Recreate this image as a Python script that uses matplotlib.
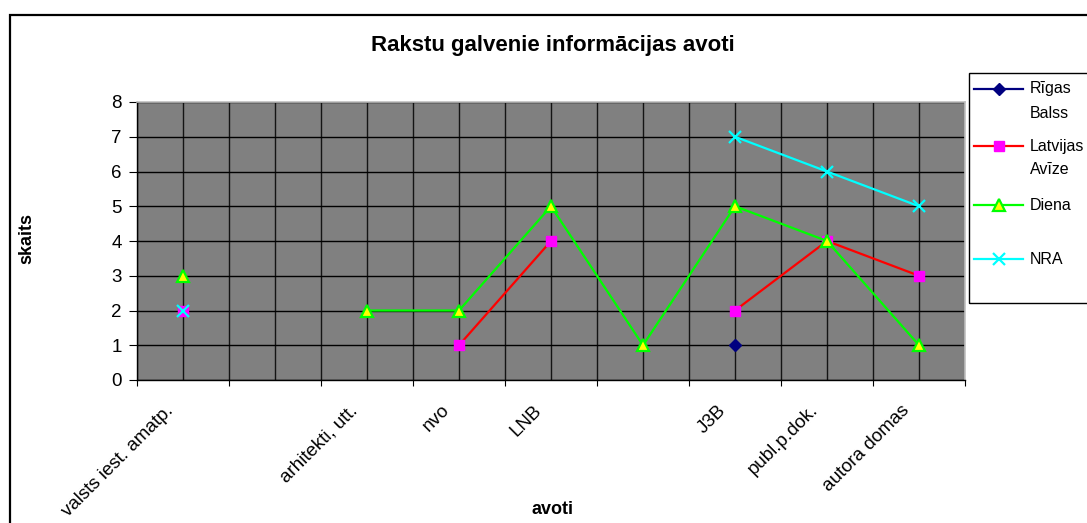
import numpy as np
import matplotlib.pyplot as plt
from matplotlib.lines import Line2D
from matplotlib.patches import Rectangle
from matplotlib.transforms import ScaledTranslation

plt.rcParams['font.family'] = ['Liberation Sans', 'DejaVu Sans']

nan = np.nan
avoti = ['valsts iest. amatp.', '', 'arhitekti, utt.', 'nvo', 'LNB', '',
         'J3B', 'publ.p.dok.', 'autora domas']
rigas_balss = [nan, nan, nan, nan, nan, nan, 1, nan, nan]
latvijas_avize = [2, nan, nan, 1, 4, nan, 2, 4, 3]
diena = [3, nan, 2, 2, 5, 1, 5, 4, 1]
nra = [2, nan, nan, nan, nan, nan, 7, 6, 5]

W, H = 1087, 523


def px(x, y):  # pixel position -> figure fraction
    return x / W, 1 - y / H


series = [
    ('Rīgas\nBalss', rigas_balss,
     dict(color='#000080', marker='D', ms=6.5, mfc='#000080', mec='#000080')),
    ('Latvijas\nAvīze', latvijas_avize,
     dict(color='#ff0000', marker='s', ms=7.5, mfc='#ff00ff', mec='#ff00ff')),
    ('Diena', diena,
     dict(color='#00ff00', marker='^', ms=8.5, mfc='#ffff00', mec='#00ff00', mew=1.6)),
    ('NRA', nra,
     dict(color='#00ffff', marker='x', ms=8.5, mec='#00ffff', mew=1.6)),
]

fig = plt.figure(figsize=(W / 100, H / 100), dpi=100)
x0, y0 = px(137, 380)
x1, y1 = px(965, 102)
ax = fig.add_axes([x0, y0, x1 - x0, y1 - y0])
ax.set_facecolor('#808080')

x = np.arange(len(avoti))
for name, vals, st in series:
    ax.plot(x, vals, lw=1.6, zorder=3, clip_on=False, **st)

ax.set_xlim(-0.5, len(avoti) - 0.5)
ax.set_ylim(0, 8)
ax.set_yticks(range(0, 9))
ax.set_xticks(np.arange(-0.5, len(avoti), 1))
ax.set_xticklabels([])
ax.set_xticks(x, minor=True)
ax.set_xticklabels(avoti, minor=True, rotation=45, ha='right', va='center',
                   rotation_mode='anchor', fontsize=13.5)
ax.tick_params(axis='x', which='major', length=4, color='black', direction='out')
ax.tick_params(axis='x', which='minor', length=0, pad=20)
ax.tick_params(axis='y', length=6, color='black', labelsize=13.5, pad=5)
off = ScaledTranslation(-0.12, 0, fig.dpi_scale_trans)
for lab in ax.get_xticklabels(minor=True):
    lab.set_transform(lab.get_transform() + off)

ax.grid(True, axis='x', which='both', color='#141414', lw=1.0, zorder=1)
ax.grid(True, axis='y', which='major', color='black', lw=1.0, zorder=1)
ax.set_axisbelow(True)
for s in ['left', 'bottom']:
    ax.spines[s].set_color('black')
    ax.spines[s].set_linewidth(1.0)
for s in ['top', 'right']:
    ax.spines[s].set_color('#c0c0c0')
    ax.spines[s].set_linewidth(1.2)

fig.text(*px(553, 46), 'Rakstu galvenie informācijas avoti', ha='center',
         va='center', fontsize=16, fontweight='bold')
fig.text(*px(27, 239), 'skaits', ha='center', va='center', rotation=90,
         fontsize=13, fontweight='bold')
fig.text(*px(552, 510), 'avoti', ha='center', va='center', fontsize=13,
         fontweight='bold')

# outer chart frame
fig.patches.append(Rectangle(px(10, 540), (1100 - 10) / W, (540 - 15) / H,
                             transform=fig.transFigure, fill=False,
                             ec='black', lw=1.6))

# legend box
lx, ly = px(969, 303)
fig.patches.append(Rectangle((lx, ly), (1100 - 969) / W, (303 - 73) / H,
                             transform=fig.transFigure, fill=False,
                             ec='black', lw=1.0))
ys = [89, 146, 205, 259]
for (name, vals, st), yy in zip(series, ys):
    hx0, hy = px(974, yy)
    hx1, _ = px(1023, yy)
    fig.add_artist(Line2D([hx0, hx1], [hy, hy], lw=1.6, color=st['color'],
                          transform=fig.transFigure))
    mk = {k: v for k, v in st.items() if k != 'color'}
    fig.add_artist(Line2D([(hx0 + hx1) / 2], [hy], lw=0,
                          transform=fig.transFigure, **mk))
    lines = name.split('\n')
    for i, t in enumerate(lines):
        fig.text(*px(1030, yy + i * 24), t, ha='left', va='center',
                 fontsize=11.5)

fig.savefig('out.png', dpi=100)
